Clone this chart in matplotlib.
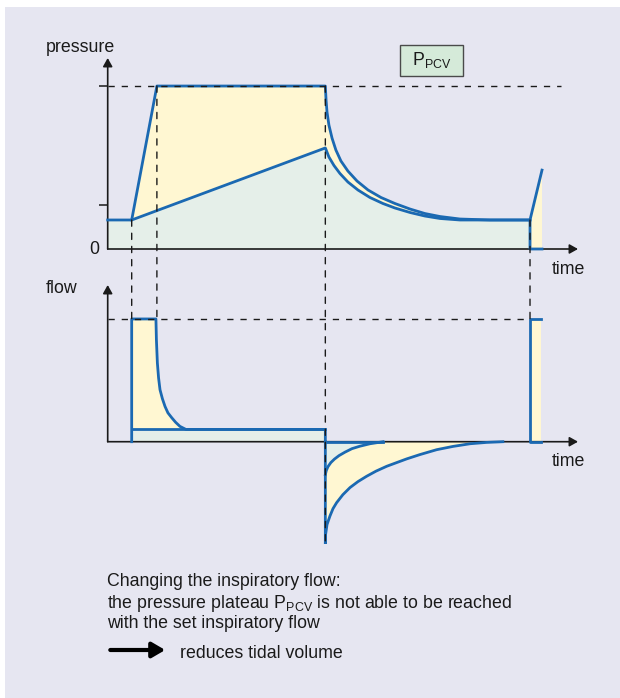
import numpy as np
import matplotlib.pyplot as plt
from matplotlib.patches import Rectangle, ConnectionPatch, FancyArrowPatch

plt.rcParams['font.family'] = ['Liberation Sans', 'DejaVu Sans']
plt.rcParams['mathtext.fontset'] = 'custom'
plt.rcParams['mathtext.rm'] = 'Liberation Sans'

# ---- data (arbitrary units) ----
t_insp, t_plat, t_exp, t_next, t_end = 1.0, 2.05, 9.07, 17.6, 18.1
t_max = 19.6
p_peep, p_pcv, p_peak_low, p_next = 4.45, 25.0, 15.5, 12.1
p_tick = 6.7
p_max = 29.3

# pressure release after plateau (outer curve)
t_p_out = [9.07, 9.10, 9.14, 9.22, 9.35, 9.51, 9.72, 10.01, 10.39, 10.85, 11.39, 11.97,
           12.6, 13.22, 13.85, 14.68, 15.93]
p_p_out = [25.0, 22.85, 21.0, 19.0, 17.0, 15.18, 13.5, 11.96, 10.43, 9.05, 7.9, 6.98,
           6.13, 5.44, 4.98, 4.6, 4.45]
# pressure release of the reduced curve (inner curve)
t_p_in = [9.07, 9.22, 9.43, 9.68, 10.01, 10.43, 10.93, 11.47, 11.97, 12.6, 13.22, 13.85,
          14.68, 15.93]
p_p_in = [15.5, 14.11, 12.81, 11.58, 10.28, 9.05, 7.9, 6.98, 6.29, 5.6, 5.06, 4.68,
          4.45, 4.45]

f_max_flow, f_const = 60.0, 6.0
f_top = 76.6
f_min = -50.0
# inspiratory flow decay
t_f_dec = [2.01, 2.03, 2.07, 2.12, 2.18, 2.28, 2.39, 2.51, 2.67, 2.83, 3.01, 3.26]
f_f_dec = [60.0, 49.8, 38.5, 31.2, 25.4, 21.0, 17.2, 14.1, 11.7, 9.5, 7.5, 6.0]
# expiratory flow, outer and inner
t_e_out = [9.07, 9.08, 9.14, 9.26, 9.39, 9.54, 9.8, 10.1, 10.43, 10.79, 11.18, 11.63,
           12.46, 13.01, 13.71, 14.39, 15.1, 15.79, 16.47]
f_e_out = [-50.0, -45.4, -40.5, -36.4, -32.7, -29.8, -25.9, -22.4, -19.5, -16.9, -14.4, -12.0,
           -8.4, -6.3, -3.9, -2.3, -1.0, -0.34, 0.0]
t_e_in = [9.07, 9.11, 9.18, 9.3, 9.45, 9.64, 9.89, 10.18, 10.51, 10.93, 11.48]
f_e_in = [-16.1, -14.1, -12.2, -10.2, -8.5, -6.8, -5.1, -3.4, -2.2, -1.0, 0.0]
t_next_flow = 18.05

# ---- style ----
W, H = 620, 698
bg = '#e6e6f1'
blue = '#1b69b2'
yellow = '#fff7d2'
green = '#e5efe9'
ink = '#1a1a1a'
fs = 12.8
lw_c = 2.0
dash = (0, (4.5, 5.0))

fig = plt.figure(figsize=(W / 100, H / 100), dpi=100)
fig.patch.set_facecolor('white')
fig.patches.append(Rectangle((5 / W, 0), 1 - 5 / W, 1 - 7 / H, transform=fig.transFigure,
                             facecolor=bg, edgecolor='none', zorder=-10))


def px_axes(x0, x1, ytop, ybot):
    a = fig.add_axes([x0 / W, 1 - ybot / H, (x1 - x0) / W, (ybot - ytop) / H])
    a.patch.set_alpha(0)
    for s in a.spines.values():
        s.set_visible(False)
    a.set_xticks([])
    return a


def ftext(x, y, s, **kw):
    fig.text(x / W, 1 - y / H, s, fontsize=fs, color=ink, **kw)


ax_p = px_axes(107.7, 578, 58, 249)
ax_p.set_xlim(0, t_max)
ax_p.set_ylim(0, p_max)
ax_f = px_axes(107.7, 578, 285, 544)
ax_f.set_xlim(0, t_max)
ax_f.set_ylim(f_min, f_top)
ax_f.set_yticks([])

ax_p.set_yticks([p_tick, p_pcv])
ax_p.set_yticklabels([])
ax_p.tick_params(axis='y', direction='out', length=6.5, width=1.1, color=ink)

arr = dict(arrowstyle='-|>,head_length=0.5,head_width=0.28', color=ink, lw=1.2,
           shrinkA=0, shrinkB=0)
ax_p.annotate('', xy=(0, p_max), xytext=(0, 0), arrowprops=arr, annotation_clip=False)
ax_p.annotate('', xy=(t_max, 0), xytext=(0, 0), arrowprops=arr, annotation_clip=False)
ax_f.annotate('', xy=(0, f_top), xytext=(0, 0), arrowprops=arr, annotation_clip=False)
ax_f.annotate('', xy=(t_max, 0), xytext=(0, 0), arrowprops=arr, annotation_clip=False)

# ---- pressure panel ----
t_low = np.r_[0, t_insp, t_p_in, t_next]
p_low = np.r_[p_peep, p_peep, p_p_in, p_peep]
ax_p.fill(np.r_[t_low, t_next, 0], np.r_[p_low, 0, 0], color=green, lw=0, zorder=1)
ax_p.fill(np.r_[t_insp, t_plat, t_p_out, t_p_in[::-1], t_insp],
          np.r_[p_peep, p_pcv, p_p_out, p_p_in[::-1], p_peep],
          color=yellow, lw=0, zorder=1)
ax_p.fill([t_next, t_next, t_end, t_end], [0, p_peep, p_next, 0], color=yellow, lw=0, zorder=1)

ax_p.plot(np.r_[0, t_insp, t_plat, t_p_out, t_next], np.r_[p_peep, p_peep, p_pcv, p_p_out, p_peep],
          color=blue, lw=lw_c, zorder=3, solid_joinstyle='round', clip_on=False)
ax_p.plot(np.r_[t_insp, t_p_in, t_next, t_next, t_end], np.r_[p_peep, p_p_in, p_peep, 0, 0],
          color=blue, lw=lw_c, zorder=3, solid_joinstyle='round', clip_on=False)
ax_p.plot([t_next, t_end], [p_peep, p_next], color=blue, lw=lw_c, zorder=3, clip_on=False)

ax_p.plot([0, 18.9], [p_pcv, p_pcv], color=ink, lw=1.0, ls=dash, zorder=5, clip_on=False)

# ---- flow panel ----
ax_f.fill([t_insp, t_insp, t_exp, t_exp], [0, f_const, f_const, 0], color=green, lw=0, zorder=1)
ax_f.fill(np.r_[t_insp, t_insp, t_f_dec], np.r_[f_const, f_max_flow, f_f_dec], color=yellow, lw=0, zorder=1)
ax_f.fill(np.r_[t_e_in, t_exp], np.r_[f_e_in, 0], color=green, lw=0, zorder=1)
ax_f.fill(np.r_[t_e_out, t_e_in[::-1]], np.r_[f_e_out, f_e_in[::-1]], color=yellow, lw=0, zorder=1)
ax_f.fill([t_next, t_next, t_next_flow, t_next_flow], [0, f_max_flow, f_max_flow, 0],
          color=yellow, lw=0, zorder=1)

ax_f.plot(np.r_[t_insp, t_insp, t_f_dec, t_exp, t_exp],
          np.r_[0, f_max_flow, f_f_dec, f_const, 0], color=blue, lw=lw_c, zorder=3)
ax_f.plot([t_insp, t_exp], [f_const, f_const], color=blue, lw=lw_c, zorder=3)
ax_f.plot(np.r_[t_exp, t_e_out], np.r_[0, f_e_out], color=blue, lw=lw_c, zorder=3)
ax_f.plot(t_e_in, f_e_in, color=blue, lw=lw_c, zorder=3)
ax_f.plot([t_exp, t_e_in[-1]], [0, 0], color=blue, lw=lw_c, zorder=3)
ax_f.plot([t_next_flow, t_next, t_next, t_next_flow], [f_max_flow, f_max_flow, 0, 0],
          color=blue, lw=lw_c, zorder=3)

ax_f.plot([0, t_next], [f_max_flow, f_max_flow], color=ink, lw=1.0, ls=dash, zorder=5)

# vertical dashed guides across both panels
for t, pa, fb in [(t_insp, p_peep, f_max_flow), (t_plat, p_pcv, f_max_flow),
                  (t_exp, p_pcv, f_min), (t_next, p_peep, f_max_flow)]:
    con = ConnectionPatch(xyA=(t, pa), coordsA=ax_p.transData, xyB=(t, fb), coordsB=ax_f.transData,
                          color=ink, lw=1.0, linestyle=dash, zorder=10)
    fig.add_artist(con)

# ---- labels ----
ftext(80.6, 47, 'pressure', ha='center', va='center')
ftext(61.8, 289, 'flow', ha='center', va='center')
ftext(99, 249, '0', ha='right', va='center')
ftext(568, 269, 'time', ha='center', va='center')
ftext(568, 461, 'time', ha='center', va='center')

fig.patches.append(Rectangle((400 / W, 1 - 76 / H), 63 / W, 31 / H, transform=fig.transFigure,
                             facecolor='#d5ead9', edgecolor='#4a4a4a', lw=1.0, zorder=2))
ftext(431.5, 60.5, r'$\mathregular{P_{PCV}}$', ha='center', va='center')

ftext(106.7, 585.5, 'Changing the inspiratory flow:', va='baseline')
ftext(106.7, 607.5, r'the pressure plateau $\mathregular{P_{PCV}}$ is not able to be reached', va='baseline')
ftext(106.7, 628.5, 'with the set inspiratory flow', va='baseline')
fig.add_artist(FancyArrowPatch(
    (107.5 / W, 1 - 650 / H), (168 / W, 1 - 650 / H), transform=fig.transFigure,
    arrowstyle='-|>,head_length=0.65,head_width=0.38', mutation_scale=12, lw=3.0, color='black'))
ftext(180, 658, 'reduces tidal volume', va='baseline')

fig.savefig('out.png', dpi=100, facecolor=fig.get_facecolor())
